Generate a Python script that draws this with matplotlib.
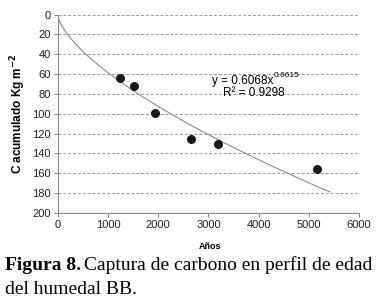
import numpy as np
import matplotlib
matplotlib.use("Agg")
import matplotlib.pyplot as plt

years = [1248, 1513, 1945, 2662, 3186, 5164]
carbon = [63.6, 72.4, 99.7, 125.6, 130.6, 155.6]
coef_a = 0.6068
coef_b = 0.6615
fit_xmax = 5420
x_ticks = [0, 1000, 2000, 3000, 4000, 5000, 6000]
y_ticks = [0, 20, 40, 60, 80, 100, 120, 140, 160, 180, 200]

plt.rcParams['font.family'] = ['Liberation Sans', 'DejaVu Sans']

fig = plt.figure(figsize=(3.85, 3.03), dpi=100)
ax = fig.add_axes([0.150, 0.298, 0.7825, 0.6535])

for yv in y_ticks[:-1]:
    ax.axhline(yv, color='#999999', lw=0.7, ls=(0, (3, 2)), zorder=0)

xf = np.linspace(0, fit_xmax, 400)
ax.plot(xf, coef_a * xf ** coef_b, color='#8c8c8c', lw=0.8, zorder=1)
ax.scatter(years, carbon, s=30, color='#1a1a1a', zorder=3)

ax.set_xlim(0, 6000)
ax.set_ylim(200, 0)
ax.set_xticks(x_ticks)
ax.set_yticks(y_ticks)
ax.tick_params(labelsize=8, length=3, width=0.7, color='#888888', pad=2, labelcolor='#222222')
for s in ['top', 'right']:
    ax.spines[s].set_visible(False)
for s in ['left', 'bottom']:
    ax.spines[s].set_color('#888888')
    ax.spines[s].set_linewidth(0.8)

renderer = fig.canvas.get_renderer()
eq = ax.text(3073, 69.5, 'y = 0.6068x', fontsize=8.5, ha='left', va='baseline')
fig.canvas.draw()
eb = eq.get_window_extent(renderer=renderer)
fig.text((eb.x1 + 0.5) / 385, (eb.y1 - 1) / 303, f'{coef_b}', fontsize=6, ha='left', va='center')
ax.text(3910, 82, 'R² = 0.9298', fontsize=8.5, ha='center', va='baseline')

ax.set_ylabel(r'C acumulado Kg m$^{\mathbf{-2}}$', fontsize=8.5, fontweight='bold', labelpad=3)
fig.text(0.545, 0.188, 'Años', fontsize=6.5, fontweight='bold', ha='center', va='center')

cap_y1 = 1 - 265 / 303
cap_y2 = 1 - 290 / 303
t1 = fig.text(5 / 385, cap_y1, 'Figura 8.', fontsize=14, fontweight='bold',
              family='Liberation Serif', va='center')
fig.canvas.draw()
bb = t1.get_window_extent(renderer=renderer)
fig.text((bb.x1 + 3) / 385, cap_y1, 'Captura de carbono en perfil de edad', fontsize=14,
         family='Liberation Serif', va='center')
fig.text(5 / 385, cap_y2, 'del humedal BB.', fontsize=14, family='Liberation Serif', va='center')

fig.savefig('out.png', dpi=100)
